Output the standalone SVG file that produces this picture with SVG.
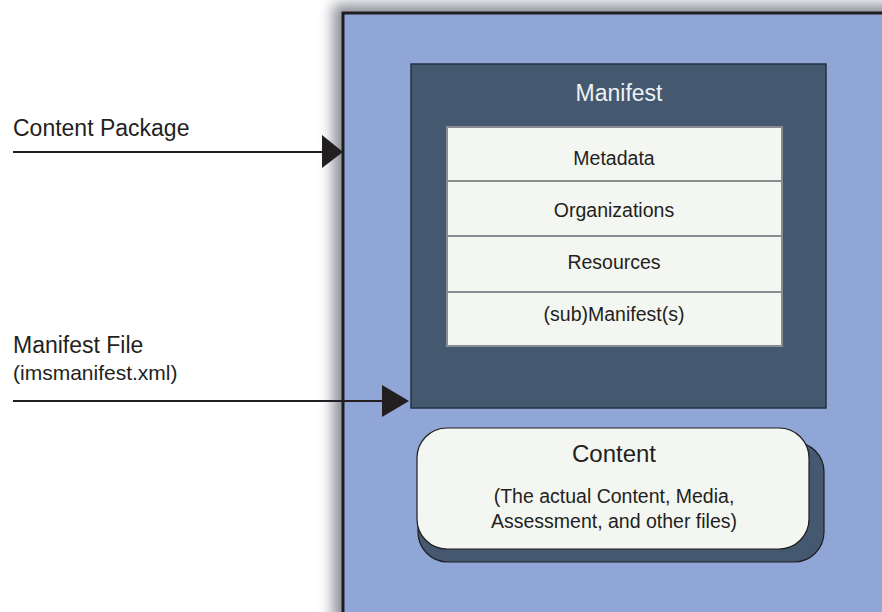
<svg xmlns="http://www.w3.org/2000/svg" width="882" height="612" viewBox="0 0 882 612">
<defs>
<filter id="blur" x="-20%" y="-20%" width="140%" height="140%"><feGaussianBlur stdDeviation="7"/></filter>
</defs>
<style>
text{font-family:"Liberation Sans",Arial,sans-serif;fill:#231f20}
.row{fill:#f3f6f1;stroke:#8a8d8f;stroke-width:2}
.rt{font-size:19.5px;text-anchor:middle}
.conn line{stroke:#231f20;stroke-width:1.8}
.head{fill:#231f20}
</style>
<rect width="882" height="612" fill="#ffffff"/>
<g id="package">
<rect x="333" y="4" width="620" height="680" fill="#8c8f99" filter="url(#blur)"/>
<rect x="343" y="13" width="600" height="640" fill="#8fa6d6" stroke="#1f1d1e" stroke-width="3"/>
</g>
<g id="manifest">
<rect x="411" y="64" width="415" height="344" fill="#44596f" stroke="#26323f" stroke-width="1.5"/>
<text x="619" y="101" font-size="23" text-anchor="middle" style="fill:#eef2f5">Manifest</text>
</g>
<g id="metadata">
<rect class="row" x="447" y="127" width="335" height="54"/>
<text class="rt" x="614" y="165">Metadata</text>
</g>
<g id="organizations">
<rect class="row" x="447" y="181" width="335" height="55"/>
<text class="rt" x="614" y="217">Organizations</text>
</g>
<g id="resources">
<rect class="row" x="447" y="236" width="335" height="56"/>
<text class="rt" x="614" y="269">Resources</text>
</g>
<g id="submanifests">
<rect class="row" x="447" y="292" width="335" height="54"/>
<text class="rt" x="614" y="321">(sub)Manifest(s)</text>
</g>
<g id="content">
<rect x="418" y="442" width="406" height="120" rx="30" ry="30" fill="#44596f" stroke="#1f1d1e" stroke-width="1.2"/>
<rect x="417" y="428" width="392" height="121" rx="30" ry="30" fill="#f3f6f1" stroke="#1f1d1e" stroke-width="1.2"/>
<text x="614" y="462" font-size="24" text-anchor="middle">Content</text>
<text x="614" y="503" font-size="19.5" text-anchor="middle">(The actual Content, Media,</text>
<text x="614" y="528" font-size="19.5" text-anchor="middle">Assessment, and other files)</text>
</g>
<g id="label-package">
<text x="13" y="136" font-size="23">Content Package</text>
</g>
<g id="label-manifest-file">
<text x="13" y="353" font-size="23">Manifest File</text>
<text x="13" y="380" font-size="21">(imsmanifest.xml)</text>
</g>
<g class="conn" id="connectors">
<line x1="13" y1="152" x2="324" y2="152"/>
<path class="head" d="M322,135 L343,152 L322,168 Z"/>
<line x1="13" y1="401" x2="384" y2="401"/>
<path class="head" d="M382,385 L409,401 L382,417 Z"/>
</g>
</svg>
